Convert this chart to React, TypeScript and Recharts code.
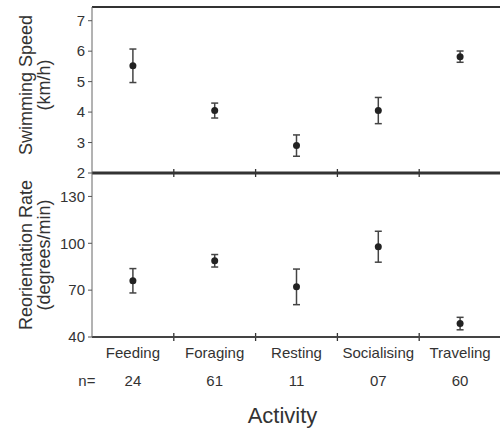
import React from 'react';
import { ComposedChart, Line, ErrorBar, XAxis, YAxis, ReferenceLine } from 'recharts';

// Behaviour categories and their sample sizes
const activities = ['Feeding', 'Foraging', 'Resting', 'Socialising', 'Traveling'];
const sampleSizes = ['24', '61', '11', '07', '60'];

// Swimming speed (km/h): mean and error half-width
const speedMean = [5.52, 4.05, 2.9, 4.05, 5.82];
const speedErr = [0.55, 0.245, 0.35, 0.43, 0.185];

// Reorientation rate (degrees/min): mean and error half-width
const reorientMean = [76.0, 88.8, 72.1, 97.8, 48.6];
const reorientErr = [7.8, 4.0, 11.4, 9.9, 4.0];

const speedTicks = [2, 3, 4, 5, 6, 7];
const reorientTicks = [40, 70, 100, 130];

const SPEED_DOMAIN: [number, number] = [2, 7.45];
const REORIENT_DOMAIN: [number, number] = [40, 145];

const rows = activities.map((activity, i) => ({
  activity,
  n: sampleSizes[i],
  speed: speedMean[i],
  speedErr: speedErr[i],
  reorient: reorientMean[i],
  reorientErr: reorientErr[i],
}));

const FONT = '"Liberation Sans", Arial, Helvetica, sans-serif';
const TEXT = '#333';
const CHART_W = 510;
const MARGIN_RIGHT = 9;

// Short mark crossing the baseline at the left edge of a category band
const BoundaryMark = (props: any) => {
  const { x1, y1, y2 } = props;
  const base = Math.max(y1, y2);
  return <line x1={x1} x2={x1} y1={base - 4} y2={base + 4} stroke="#333" strokeWidth={1.3} />;
};

// Category name with its sample size underneath
const CategoryTick = (props: any) => {
  const { x, y, payload, index } = props;
  const i = typeof index === 'number' ? index : activities.indexOf(payload.value);
  return (
    <g>
      <text x={x} y={y + 21} textAnchor="middle" fontSize={15} fill={TEXT} fontFamily={FONT}>
        {payload.value}
      </text>
      <text x={x} y={y + 49} textAnchor="middle" fontSize={15} fill={TEXT} fontFamily={FONT}>
        {sampleSizes[i]}
      </text>
      {i === 0 && (
        <text x={x - 46} y={y + 49} textAnchor="middle" fontSize={15} fill={TEXT} fontFamily={FONT}>
          n=
        </text>
      )}
    </g>
  );
};

// Two-line rotated axis title
const makeYTitle = (line1: string, line2: string, shift: number) => (props: any) => {
  const vb = props.viewBox || {};
  const cy = vb.y + vb.height / 2 + shift;
  return (
    <g>
      <text
        transform={`translate(31.5, ${cy}) rotate(-90)`}
        textAnchor="middle"
        fontSize={18}
        fill={TEXT}
        fontFamily={FONT}
      >
        {line1}
      </text>
      <text
        transform={`translate(49.5, ${cy}) rotate(-90)`}
        textAnchor="middle"
        fontSize={18}
        fill={TEXT}
        fontFamily={FONT}
      >
        {line2}
      </text>
    </g>
  );
};

const ActivityTitle = (props: any) => {
  const vb = props.viewBox || {};
  return (
    <text
      x={vb.x + vb.width / 2 - 14}
      y={vb.y + vb.height - 6}
      textAnchor="middle"
      fontSize={22}
      fill={TEXT}
      fontFamily={FONT}
    >
      Activity
    </text>
  );
};

const yTick = { fontSize: 15, fill: TEXT, fontFamily: FONT };
const dotStyle = { r: 3.5, fill: '#222', stroke: '#222', strokeWidth: 0 };

const boundaryMarks = activities.slice(1).map((a) => (
  <ReferenceLine
    key={a}
    x={a}
    position="start"
    ifOverflow="visible"
    stroke="none"
    shape={<BoundaryMark />}
  />
));

export default function App() {
  return (
    <div
      style={{
        position: 'absolute',
        left: 0,
        top: 0,
        width: 500,
        height: 429,
        overflow: 'hidden',
        background: '#fff',
        fontFamily: FONT,
      }}
    >
      {/* Upper panel: swimming speed */}
      <div style={{ position: 'absolute', left: 0, top: 0 }}>
        <ComposedChart
          width={CHART_W}
          height={180}
          data={rows}
          margin={{ top: 7, right: MARGIN_RIGHT, bottom: 0, left: 0 }}
        >
          <XAxis
            dataKey="activity"
            type="category"
            scale="band"
            height={7}
            tick={false}
            tickLine={false}
            axisLine={{ stroke: '#333', strokeWidth: 3 }}
          />
          <YAxis
            type="number"
            domain={SPEED_DOMAIN}
            ticks={speedTicks}
            interval={0}
            width={92}
            tickSize={4}
            tickMargin={3}
            tick={yTick}
            axisLine={{ stroke: '#666' }}
            tickLine={{ stroke: '#555' }}
            label={makeYTitle('Swimming Speed', '(km/h)', -5)}
          />
          <ReferenceLine y={SPEED_DOMAIN[1]} stroke="#333" strokeWidth={2} />
          {boundaryMarks}
          <Line
            dataKey="speed"
            stroke="none"
            dot={dotStyle}
            activeDot={false}
            isAnimationActive={false}
          >
            <ErrorBar dataKey="speedErr" direction="y" width={3.5} stroke="#444" strokeWidth={1.5} />
          </Line>
        </ComposedChart>
      </div>

      {/* Lower panel: reorientation rate */}
      <div style={{ position: 'absolute', left: 0, top: 173 }}>
        <ComposedChart
          width={CHART_W}
          height={256}
          data={rows}
          margin={{ top: 0, right: MARGIN_RIGHT, bottom: 0, left: 0 }}
        >
          <XAxis
            dataKey="activity"
            type="category"
            scale="band"
            height={92}
            interval={0}
            tickSize={0}
            tickMargin={0}
            tickLine={false}
            axisLine={{ stroke: '#444', strokeWidth: 2 }}
            tick={<CategoryTick />}
            label={ActivityTitle}
          />
          <YAxis
            type="number"
            domain={REORIENT_DOMAIN}
            ticks={reorientTicks}
            interval={0}
            width={92}
            tickSize={4}
            tickMargin={3}
            tick={yTick}
            axisLine={{ stroke: '#666' }}
            tickLine={{ stroke: '#555' }}
            label={makeYTitle('Reorientation Rate', '(degrees/min)', 0)}
          />
          {boundaryMarks}
          <Line
            dataKey="reorient"
            stroke="none"
            dot={dotStyle}
            activeDot={false}
            isAnimationActive={false}
          >
            <ErrorBar dataKey="reorientErr" direction="y" width={3.5} stroke="#444" strokeWidth={1.5} />
          </Line>
        </ComposedChart>
      </div>
    </div>
  );
}
